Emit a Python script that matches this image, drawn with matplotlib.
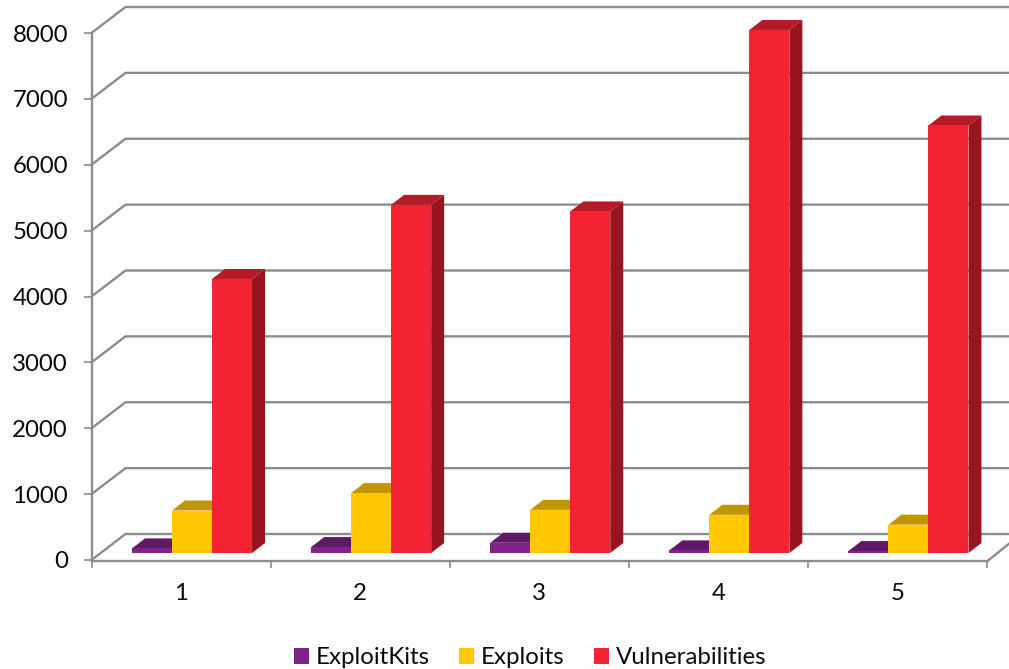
import matplotlib
matplotlib.use("Agg")
import matplotlib.pyplot as plt
from matplotlib.patches import Patch, Polygon

plt.rcParams["font.family"] = ["Lato", "DejaVu Sans"]

categories = [1, 2, 3, 4, 5]
series_names = ["ExploitKits", "Exploits", "Vulnerabilities"]
exploit_kits = [70, 90, 155, 40, 30]
exploits = [645, 910, 655, 580, 430]
vulnerabilities = [4160, 5285, 5185, 7940, 6490]
value_ticks = [0, 1000, 2000, 3000, 4000, 5000, 6000, 7000, 8000]

FRONT = ["#7F2388", "#FFC800", "#F22433"]
TOP = ["#5F1A66", "#BF9600", "#B51B27"]
SIDE = ["#4F1555", "#A07E00", "#98141F"]
GRID = "#8C8C8C"
TEXT = "#0A0A0A"

W, H = 1009, 669
fig = plt.figure(figsize=(W / 100, H / 100), dpi=100, facecolor="white")
ax = fig.add_axes([91.5 / W, 1 - 560 / H, (987 - 91.5) / W, (560 - 33) / H])
ax.set_xlim(0.5, 5.5)
ax.set_ylim(0, 8000)
ax.patch.set_visible(False)

# Pixel-to-data factors for the oblique projection
PX_X = 1 / 179.1
PX_Y = 1000 / 65.9
WALL_DX, WALL_DY = 34 * PX_X, 26 * PX_Y
BAR_W = 40 * PX_X
BAR_DX, BAR_DY = 13 * PX_X, 10 * PX_Y
BASE_DX, BASE_DY = 11 * PX_X, 7 * PX_Y
LW = 1.7
FS = 17.3

# Back wall and side wall gridlines
for v in value_ticks:
    ax.plot([0.5, 0.5 + WALL_DX, 5.5 + WALL_DX], [v, v + WALL_DY, v + WALL_DY],
            color=GRID, lw=LW, clip_on=False, zorder=1, solid_joinstyle="miter")
# Right-hand floor edge
ax.plot([5.5, 5.5 + WALL_DX], [-22, WALL_DY], color=GRID, lw=LW, clip_on=False, zorder=1)

# Axes frame and ticks
for name in ("top", "right"):
    ax.spines[name].set_visible(False)
ax.spines["left"].set_color(GRID)
ax.spines["bottom"].set_color(GRID)
ax.spines["left"].set_linewidth(LW)
ax.spines["bottom"].set_linewidth(LW)
ax.spines["bottom"].set_position(("data", -22))
ax.spines["left"].set_bounds(-22, 8000)
ax.set_yticks(value_ticks)
ax.set_xticks([0.5, 1.5, 2.5, 3.5, 4.5, 5.5], labels=[])
ax.set_xticks(categories, labels=[str(c) for c in categories], minor=True)
ax.tick_params(axis="y", length=6, width=1.2, color=GRID, pad=11,
               labelsize=FS, labelcolor=TEXT)
ax.tick_params(axis="x", which="major", length=5, width=1.2, color=GRID)
ax.tick_params(axis="x", which="minor", length=0, pad=15.5,
               labelsize=FS, labelcolor=TEXT)

# Extruded bars, left to right so that each front face covers its neighbour's side
for s, values in enumerate([exploit_kits, exploits, vulnerabilities]):
    for cat, val in zip(categories, values):
        x0 = cat - 1.5 * BAR_W + BASE_DX + s * BAR_W
        x1 = x0 + BAR_W
        y0 = BASE_DY
        y1 = BASE_DY + val
        ax.add_patch(Polygon([(x1, y0), (x1 + BAR_DX, y0 + BAR_DY),
                              (x1 + BAR_DX, y1 + BAR_DY), (x1, y1)],
                             facecolor=SIDE[s], edgecolor="none",
                             clip_on=False, zorder=3 + s))
        ax.add_patch(Polygon([(x0, y1), (x0 + BAR_DX, y1 + BAR_DY),
                              (x1 + BAR_DX, y1 + BAR_DY), (x1, y1)],
                             facecolor=TOP[s], edgecolor="none",
                             clip_on=False, zorder=3 + s))
        ax.bar(x0, val, width=BAR_W, bottom=y0, align="edge", color=FRONT[s],
               linewidth=0, clip_on=False, zorder=3 + s)

handles = [Patch(facecolor=c, edgecolor="none", label=n)
           for c, n in zip(FRONT, series_names)]
fig.legend(handles=handles, ncol=3, loc="center", bbox_to_anchor=(530 / W, 1 - 658 / H),
           frameon=False, fontsize=FS, labelcolor=TEXT,
           handlelength=15 / (FS * 100 / 72), handleheight=15 / (FS * 100 / 72),
           handletextpad=7 / (FS * 100 / 72), columnspacing=29 / (FS * 100 / 72),
           borderpad=0, borderaxespad=0)

fig.savefig("out.png", dpi=100)
